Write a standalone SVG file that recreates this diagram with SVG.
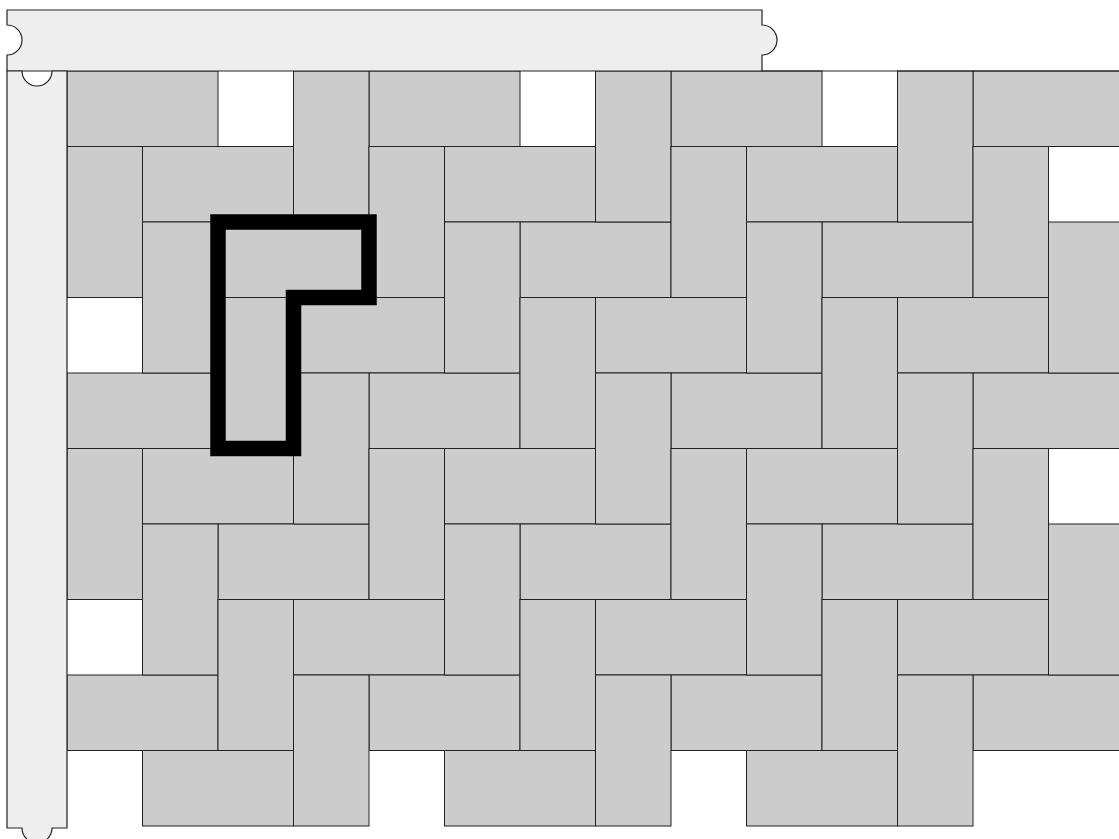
<svg xmlns="http://www.w3.org/2000/svg" width="1119" height="839" viewBox="0 0 1119 839">
<style>
.t{fill:#cccccc;stroke:#222;stroke-width:1}
.bar{fill:#eeeeee;stroke:#222;stroke-width:1.2}
.sel{fill:none;stroke:#000;stroke-width:15.5;stroke-linejoin:miter}
</style>
<rect width="1119" height="839" fill="#fff"/>
<g id="tiles-horizontal">
<rect class="t" x="67" y="71" width="151" height="75.5"/>
<rect class="t" x="369" y="71" width="151" height="75.5"/>
<rect class="t" x="671" y="71" width="151" height="75.5"/>
<rect class="t" x="973" y="71" width="151" height="75.5"/>
<rect class="t" x="142.5" y="146.5" width="151" height="75.5"/>
<rect class="t" x="444.5" y="146.5" width="151" height="75.5"/>
<rect class="t" x="746.5" y="146.5" width="151" height="75.5"/>
<rect class="t" x="218" y="222" width="151" height="75.5"/>
<rect class="t" x="520" y="222" width="151" height="75.5"/>
<rect class="t" x="822" y="222" width="151" height="75.5"/>
<rect class="t" x="293.5" y="297.5" width="151" height="75.5"/>
<rect class="t" x="595.5" y="297.5" width="151" height="75.5"/>
<rect class="t" x="897.5" y="297.5" width="151" height="75.5"/>
<rect class="t" x="67" y="373" width="151" height="75.5"/>
<rect class="t" x="369" y="373" width="151" height="75.5"/>
<rect class="t" x="671" y="373" width="151" height="75.5"/>
<rect class="t" x="973" y="373" width="151" height="75.5"/>
<rect class="t" x="142.5" y="448.5" width="151" height="75.5"/>
<rect class="t" x="444.5" y="448.5" width="151" height="75.5"/>
<rect class="t" x="746.5" y="448.5" width="151" height="75.5"/>
<rect class="t" x="218" y="524" width="151" height="75.5"/>
<rect class="t" x="520" y="524" width="151" height="75.5"/>
<rect class="t" x="822" y="524" width="151" height="75.5"/>
<rect class="t" x="293.5" y="599.5" width="151" height="75.5"/>
<rect class="t" x="595.5" y="599.5" width="151" height="75.5"/>
<rect class="t" x="897.5" y="599.5" width="151" height="75.5"/>
<rect class="t" x="67" y="675" width="151" height="75.5"/>
<rect class="t" x="369" y="675" width="151" height="75.5"/>
<rect class="t" x="671" y="675" width="151" height="75.5"/>
<rect class="t" x="973" y="675" width="151" height="75.5"/>
<rect class="t" x="142.5" y="750.5" width="151" height="75.5"/>
<rect class="t" x="444.5" y="750.5" width="151" height="75.5"/>
<rect class="t" x="746.5" y="750.5" width="151" height="75.5"/>
</g>
<g id="tiles-vertical">
<rect class="t" x="293.5" y="71" width="75.5" height="151"/>
<rect class="t" x="595.5" y="71" width="75.5" height="151"/>
<rect class="t" x="897.5" y="71" width="75.5" height="151"/>
<rect class="t" x="67" y="146.5" width="75.5" height="151"/>
<rect class="t" x="369" y="146.5" width="75.5" height="151"/>
<rect class="t" x="671" y="146.5" width="75.5" height="151"/>
<rect class="t" x="973" y="146.5" width="75.5" height="151"/>
<rect class="t" x="142.5" y="222" width="75.5" height="151"/>
<rect class="t" x="444.5" y="222" width="75.5" height="151"/>
<rect class="t" x="746.5" y="222" width="75.5" height="151"/>
<rect class="t" x="1048.5" y="222" width="75.5" height="151"/>
<rect class="t" x="218" y="297.5" width="75.5" height="151"/>
<rect class="t" x="520" y="297.5" width="75.5" height="151"/>
<rect class="t" x="822" y="297.5" width="75.5" height="151"/>
<rect class="t" x="293.5" y="373" width="75.5" height="151"/>
<rect class="t" x="595.5" y="373" width="75.5" height="151"/>
<rect class="t" x="897.5" y="373" width="75.5" height="151"/>
<rect class="t" x="67" y="448.5" width="75.5" height="151"/>
<rect class="t" x="369" y="448.5" width="75.5" height="151"/>
<rect class="t" x="671" y="448.5" width="75.5" height="151"/>
<rect class="t" x="973" y="448.5" width="75.5" height="151"/>
<rect class="t" x="142.5" y="524" width="75.5" height="151"/>
<rect class="t" x="444.5" y="524" width="75.5" height="151"/>
<rect class="t" x="746.5" y="524" width="75.5" height="151"/>
<rect class="t" x="1048.5" y="524" width="75.5" height="151"/>
<rect class="t" x="218" y="599.5" width="75.5" height="151"/>
<rect class="t" x="520" y="599.5" width="75.5" height="151"/>
<rect class="t" x="822" y="599.5" width="75.5" height="151"/>
<rect class="t" x="293.5" y="675" width="75.5" height="151"/>
<rect class="t" x="595.5" y="675" width="75.5" height="151"/>
<rect class="t" x="897.5" y="675" width="75.5" height="151"/>
</g>
<g id="board-edge">
<line x1="762" y1="71" x2="1119" y2="71" stroke="#222" stroke-width="1"/>
</g>
<g id="top-bar">
<path class="bar" d="M7,10 H762 V25 A15,15 0 0 1 762,55 V71 H7 V55 A15,15 0 0 0 7,25 Z"/>
</g>
<g id="left-bar">
<path class="bar" d="M7,71 H22 A15,15 0 0 0 52,71 H67 V828 H52 A15,15 0 0 1 22,828 H7 Z"/>
</g>
<g id="selection">
<path class="sel" d="M218,222 H369 V297.5 H293.5 V448.5 H218 Z"/>
</g>
</svg>
